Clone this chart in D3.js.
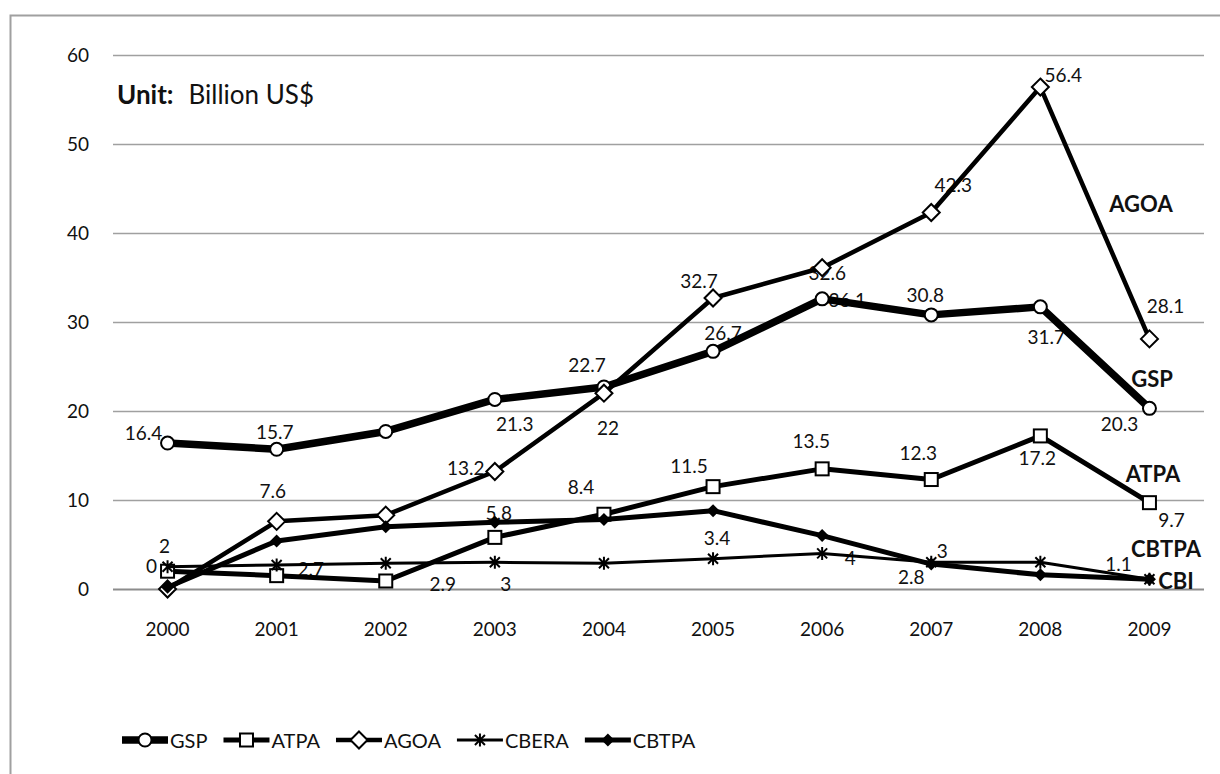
<!DOCTYPE html>
<html>
<head>
<meta charset="utf-8">
<script src="https://cdn.jsdelivr.net/npm/d3@7"></script>
<style>
  html, body { margin: 0; padding: 0; background: #fff; }
  svg { display: block; font-family: Lato, "Open Sans", sans-serif; }
</style>
</head>
<body>
<svg id="chart" width="1220" height="774"></svg>
<script>
// Preferential trade imports by programme, 2000-2009 (billion US$)
const years = ["2000", "2001", "2002", "2003", "2004", "2005", "2006", "2007", "2008", "2009"];
const gsp   = [16.4, 15.7, 17.7, 21.3, 22.7, 26.7, 32.6, 30.8, 31.7, 20.3];
const atpa  = [2.0, 1.5, 0.9, 5.8, 8.4, 11.5, 13.5, 12.3, 17.2, 9.7];
const agoa  = [0, 7.6, 8.3, 13.2, 22.0, 32.7, 36.1, 42.3, 56.4, 28.1];
const cbera = [2.5, 2.7, 2.9, 3.0, 2.9, 3.4, 4.0, 3.0, 3.0, 1.1];
const cbtpa = [0.2, 5.4, 7.0, 7.5, 7.8, 8.8, 6.0, 2.8, 1.6, 1.1];
const yTicks = [0, 10, 20, 30, 40, 50, 60];
const seriesNames = ["GSP", "ATPA", "AGOA", "CBERA", "CBTPA"];
const endNames = ["AGOA", "GSP", "ATPA", "CBTPA", "CBI"];

const svg = d3.select("#chart");

// plot geometry
const plot = { left: 113, right: 1204, top: 55, bottom: 589 };
const x = d3.scaleBand().domain(years).range([plot.left, plot.right]);
const y = d3.scaleLinear().domain([0, 60]).range([plot.bottom, plot.top]);
const cx = yr => x(yr) + x.bandwidth() / 2;

// outer frame
svg.append("rect")
  .attr("x", 10.5).attr("y", 15.5).attr("width", 1240).attr("height", 800)
  .attr("fill", "none").attr("stroke", "#a0a0a0").attr("stroke-width", 2);

// gridlines and y tick labels
const yAxis = d3.axisLeft(y).tickValues(yTicks).tickSize(-(plot.right - plot.left)).tickPadding(24);
const gy = svg.append("g").attr("transform", `translate(${plot.left},0)`).call(yAxis);
gy.select(".domain").remove();
gy.selectAll(".tick line")
  .attr("stroke", d => d === 0 ? "#8c8c8c" : "#a0a0a0")
  .attr("stroke-width", d => d === 0 ? 2.2 : 1.6);
gy.selectAll(".tick text")
  .attr("fill", "#111").style("font-size", "19px").style("font-family", "Lato, sans-serif");

// x labels
const xAxis = d3.axisBottom(x).tickSize(0).tickPadding(34);
const gx = svg.append("g").attr("transform", `translate(0,${plot.bottom})`).call(xAxis);
gx.select(".domain").remove();
gx.selectAll(".tick text")
  .attr("fill", "#111").style("font-size", "19px").style("font-family", "Lato, sans-serif");

// unit note
const unit = svg.append("text").attr("x", 117).attr("y", 104).style("font-size", "26px").attr("fill", "#111");
unit.append("tspan").attr("font-weight", "bold").text("Unit:");
unit.append("tspan").attr("dx", 15).text("Billion US$");

// series definitions
const series = [
  { name: "GSP",   values: gsp,   width: 7.5, marker: "circle" },
  { name: "ATPA",  values: atpa,  width: 5,   marker: "square" },
  { name: "AGOA",  values: agoa,  width: 4.5, marker: "diamond" },
  { name: "CBERA", values: cbera, width: 3,   marker: "star" },
  { name: "CBTPA", values: cbtpa, width: 5,   marker: "fdiamond" }
];

// data-label placement: [series, year index, dx, dy] relative to the point
const labelPlacement = [
  ["GSP", 0, -24, -11], ["GSP", 1, -2, -18], ["GSP", 3, 20, 24], ["GSP", 4, -17, -22],
  ["GSP", 5, 10, -19], ["GSP", 6, 5, -26], ["GSP", 7, -6, -20], ["GSP", 8, 6, 30], ["GSP", 9, -30, 15],
  ["AGOA", 0, -16, -24], ["AGOA", 1, -4, -31], ["AGOA", 3, -29, -4], ["AGOA", 4, 4, 34],
  ["AGOA", 5, -14, -17], ["AGOA", 6, 25, 32], ["AGOA", 7, 22, -28], ["AGOA", 8, 23, -13], ["AGOA", 9, 16, -33],
  ["ATPA", 0, -3, -26], ["ATPA", 3, 4, -25], ["ATPA", 4, -23, -28], ["ATPA", 5, -24, -21],
  ["ATPA", 6, -11, -28], ["ATPA", 7, -13, -27], ["ATPA", 8, -3, 22], ["ATPA", 9, 22, 17],
  ["CBERA", 1, 34, 4], ["CBERA", 2, 57, 20], ["CBERA", 3, 11, 21], ["CBERA", 5, 4, -21],
  ["CBERA", 6, 28, 4], ["CBERA", 7, 11, -12], ["CBERA", 9, -31, -16],
  ["CBTPA", 7, -20, 12]
];
const byName = Object.fromEntries(series.map(s => [s.name, s]));

// value labels sit underneath the lines
svg.append("g").selectAll("text").data(labelPlacement).join("text")
  .attr("x", d => cx(years[d[1]]) + d[2])
  .attr("y", d => y(byName[d[0]].values[d[1]]) + d[3])
  .attr("text-anchor", "middle").attr("dominant-baseline", "central")
  .style("font-size", "19px").attr("fill", "#111")
  .text(d => String(byName[d[0]].values[d[1]]));

// marker drawing
function drawMarker(g, type) {
  if (type === "circle") {
    g.append("circle").attr("r", 6.5).attr("fill", "#fff").attr("stroke", "#000").attr("stroke-width", 2);
  } else if (type === "square") {
    g.append("rect").attr("x", -6.5).attr("y", -6.5).attr("width", 13).attr("height", 13)
      .attr("fill", "#fff").attr("stroke", "#000").attr("stroke-width", 2);
  } else if (type === "diamond") {
    g.append("path").attr("d", "M0,-8.5L8.5,0L0,8.5L-8.5,0Z")
      .attr("fill", "#fff").attr("stroke", "#000").attr("stroke-width", 2);
  } else if (type === "fdiamond") {
    g.append("path").attr("d", "M0,-6.5L6.5,0L0,6.5L-6.5,0Z").attr("fill", "#000");
  } else if (type === "star") {
    g.append("path").attr("d", "M-5,-5L5,5M5,-5L-5,5M0,-6.5L0,6.5")
      .attr("fill", "none").attr("stroke", "#000").attr("stroke-width", 2);
  }
}

const line = d3.line().x((d, i) => cx(years[i])).y(d => y(d));

series.forEach(s => {
  const g = svg.append("g");
  g.append("path").datum(s.values).attr("d", line)
    .attr("fill", "none").attr("stroke", "#000").attr("stroke-width", s.width)
    .attr("stroke-linejoin", "round");
  g.selectAll("g.m").data(s.values).join("g").attr("class", "m")
    .attr("transform", (d, i) => `translate(${cx(years[i])},${y(d)})`)
    .each(function () { drawMarker(d3.select(this), s.marker); });
});

// series names at the right end
const endPos = [[1141, 203], [1152, 378], [1153, 473], [1166, 548], [1176, 580]];
svg.append("g").selectAll("text").data(endNames).join("text")
  .attr("x", (d, i) => endPos[i][0]).attr("y", (d, i) => endPos[i][1])
  .attr("text-anchor", "middle").attr("dominant-baseline", "central")
  .attr("font-weight", "bold").style("font-size", "22px").attr("fill", "#111")
  .text(d => d);

// legend
const legend = svg.append("g").attr("transform", "translate(122,740)");
let lx = 0;
series.forEach(s => {
  const item = legend.append("g").attr("transform", `translate(${lx},0)`);
  item.append("line").attr("x1", 0).attr("x2", 46).attr("y1", 0).attr("y2", 0)
    .attr("stroke", "#000").attr("stroke-width", s.width);
  const mg = item.append("g").attr("transform", "translate(23,0)");
  drawMarker(mg, s.marker);
  const t = item.append("text").attr("x", 48).attr("y", 0).attr("dominant-baseline", "central")
    .style("font-size", "20px").attr("fill", "#111").text(s.name);
  lx += 48 + t.node().getComputedTextLength() + 16;
});
</script>
</body>
</html>
